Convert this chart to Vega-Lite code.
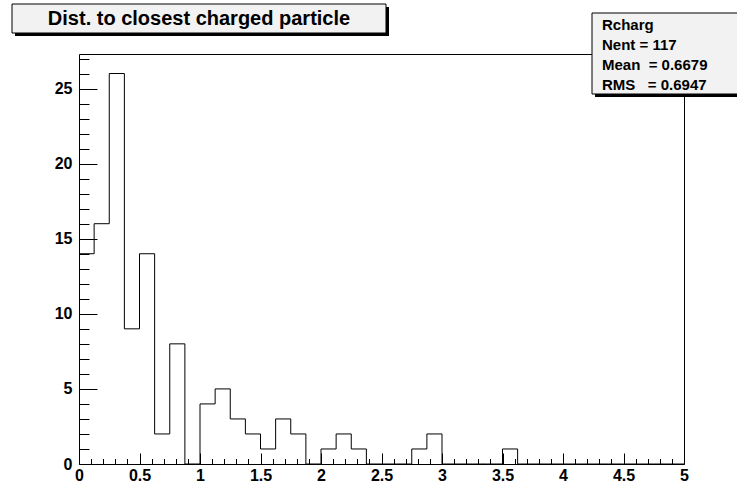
{
  "$schema": "https://vega.github.io/schema/vega-lite/v6.json",
  "width": 605,
  "height": 410,
  "autosize": {"type": "none"},
  "padding": {"left": 79, "top": 54, "right": 53, "bottom": 23},
  "background": "white",
  "config": {
    "view": {"stroke": "black", "strokeWidth": 1},
    "font": "Liberation Sans",
    "axis": {
      "labelFont": "Liberation Sans",
      "labelFontWeight": "bold",
      "labelFontSize": 16,
      "labelColor": "black",
      "tickColor": "black",
      "tickWidth": 1,
      "domain": false,
      "grid": false,
      "title": null,
      "labelFlush": false,
      "labelOverlap": false
    }
  },
  "datasets": {
    "hist": [
      {"x": 0, "count": 14}, {"x": 0.125, "count": 16}, {"x": 0.25, "count": 26}, {"x": 0.375, "count": 9},
      {"x": 0.5, "count": 14}, {"x": 0.625, "count": 2}, {"x": 0.75, "count": 8}, {"x": 0.875, "count": 0},
      {"x": 1, "count": 4}, {"x": 1.125, "count": 5}, {"x": 1.25, "count": 3}, {"x": 1.375, "count": 2},
      {"x": 1.5, "count": 1}, {"x": 1.625, "count": 3}, {"x": 1.75, "count": 2}, {"x": 1.875, "count": 0},
      {"x": 2, "count": 1}, {"x": 2.125, "count": 2}, {"x": 2.25, "count": 1}, {"x": 2.375, "count": 0},
      {"x": 2.5, "count": 0}, {"x": 2.625, "count": 0}, {"x": 2.75, "count": 1}, {"x": 2.875, "count": 2},
      {"x": 3, "count": 0}, {"x": 3.125, "count": 0}, {"x": 3.25, "count": 0}, {"x": 3.375, "count": 0},
      {"x": 3.5, "count": 1}, {"x": 3.625, "count": 0}, {"x": 3.75, "count": 0}, {"x": 3.875, "count": 0},
      {"x": 4, "count": 0}, {"x": 4.125, "count": 0}, {"x": 4.25, "count": 0}, {"x": 4.375, "count": 0},
      {"x": 4.5, "count": 0}, {"x": 4.625, "count": 0}, {"x": 4.75, "count": 0}, {"x": 4.875, "count": 0},
      {"x": 5, "count": 0}
    ]
  },
  "layer": [
    {
      "data": {"name": "hist"},
      "mark": {"type": "line", "interpolate": "step-after", "color": "black", "strokeWidth": 1},
      "encoding": {
        "x": {
          "field": "x", "type": "quantitative",
          "scale": {"domain": [0, 5], "nice": false, "zero": false},
          "axis": {"orient": "bottom", "values": [0, 0.5, 1, 1.5, 2, 2.5, 3, 3.5, 4, 4.5, 5], "tickSize": -11, "labelPadding": 14, "format": "~g"}
        },
        "y": {
          "field": "count", "type": "quantitative",
          "scale": {"domain": [0, 27.3], "nice": false},
          "axis": {"orient": "left", "values": [0, 5, 10, 15, 20, 25], "tickSize": -18, "labelPadding": 25, "format": "~g"}
        }
      }
    },
    {
      "data": {"name": "hist"},
      "mark": {"type": "point", "opacity": 0},
      "encoding": {
        "x": {
          "field": "x", "type": "quantitative",
          "scale": {"domain": [0, 5], "nice": false, "zero": false},
          "axis": {"orient": "bottom", "labels": false, "tickSize": -5.5,
            "values": [0.1, 0.2, 0.3, 0.4, 0.6, 0.7, 0.8, 0.9, 1.1, 1.2, 1.3, 1.4, 1.6, 1.7, 1.8, 1.9, 2.1, 2.2, 2.3, 2.4, 2.6, 2.7, 2.8, 2.9, 3.1, 3.2, 3.3, 3.4, 3.6, 3.7, 3.8, 3.9, 4.1, 4.2, 4.3, 4.4, 4.6, 4.7, 4.8, 4.9]}
        },
        "y": {
          "field": "count", "type": "quantitative",
          "scale": {"domain": [0, 27.3], "nice": false},
          "axis": {"orient": "left", "labels": false, "tickSize": -10,
            "values": [1, 2, 3, 4, 6, 7, 8, 9, 11, 12, 13, 14, 16, 17, 18, 19, 21, 22, 23, 24, 26, 27]}
        }
      }
    },
    {
      "data": {"values": [{}]},
      "mark": {"type": "rect", "fill": "black", "stroke": null},
      "encoding": {"x": {"value": -64}, "x2": {"value": 310}, "y": {"value": -47}, "y2": {"value": -18}}
    },
    {
      "data": {"values": [{}]},
      "mark": {"type": "rect", "fill": "#f2f2f2", "stroke": "black", "strokeWidth": 1},
      "encoding": {"x": {"value": -67}, "x2": {"value": 307}, "y": {"value": -50}, "y2": {"value": -21}}
    },
    {
      "data": {"values": [{"t": "Dist. to closest charged particle"}]},
      "mark": {"type": "text", "font": "Liberation Sans", "fontWeight": "bold", "fontSize": 20, "align": "center", "baseline": "middle", "color": "black"},
      "encoding": {"text": {"field": "t"}, "x": {"value": 120}, "y": {"value": -35.5}}
    },
    {
      "data": {"values": [{}]},
      "mark": {"type": "rect", "fill": "black", "stroke": null},
      "encoding": {"x": {"value": 516}, "x2": {"value": 662}, "y": {"value": -38}, "y2": {"value": 43}}
    },
    {
      "data": {"values": [{}]},
      "mark": {"type": "rect", "fill": "#f2f2f2", "stroke": "black", "strokeWidth": 1},
      "encoding": {"x": {"value": 513}, "x2": {"value": 659}, "y": {"value": -41}, "y2": {"value": 40}}
    },
    {
      "data": {"values": [{}]},
      "mark": {"type": "text", "font": "Liberation Sans", "fontWeight": "bold", "fontSize": 15, "align": "left", "baseline": "middle", "lineHeight": 20, "color": "black"},
      "encoding": {"text": {"value": ["Rcharg", "Nent = 117", "Mean\u00a0 = 0.6679", "RMS\u00a0\u00a0 = 0.6947"]}, "x": {"value": 523}, "y": {"value": -29}}
    }
  ],
  "resolve": {"axis": {"x": "independent", "y": "independent"}}
}
